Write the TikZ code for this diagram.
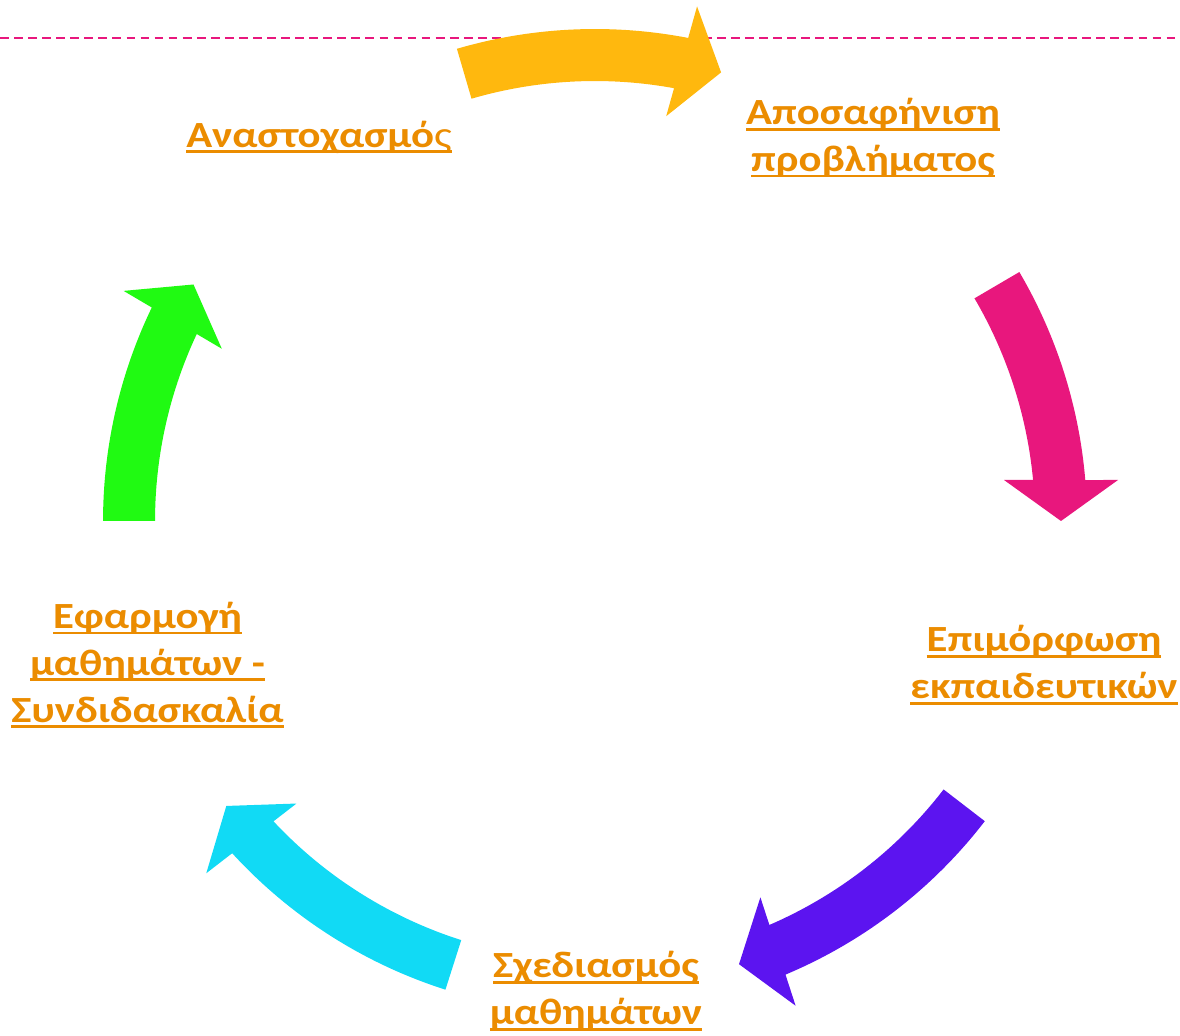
\documentclass[tikz,border=0pt]{standalone}
\usepackage{fontspec}
\setmainfont{Carlito}[FakeStretch=1.16]
\usepackage{tikz}

\definecolor{labelorange}{RGB}{235,140,0}
\definecolor{cycyellow}{RGB}{255,184,14}
\definecolor{cycpink}{RGB}{232,23,125}
\definecolor{cycpurple}{RGB}{92,20,240}
\definecolor{cyccyan}{RGB}{17,218,245}
\definecolor{cycgreen}{RGB}{32,250,18}

\newcommand\ulword[1]{\leavevmode\setbox0\hbox{#1}\rlap{\rule[-3.3pt]{\wd0}{1.5pt}}\box0}
% curved block arrow: colour, tip angle, arc span back to the tail
\newcommand\cyclearrow[3]{%
  \begin{scope}[rotate=#2]
   \fill[#1] (#3:492) arc[start angle=#3,end angle=4.78,radius=492] -- (523,41) -- (466,0)
     -- (409,41) -- (5.35:440) arc[start angle=5.35,end angle=#3,radius=440] -- cycle;
  \end{scope}}

\tikzset{steplabel/.style={text=labelorange,font=\bfseries\fontsize{21}{26.7}\selectfont,
  align=center,inner sep=0pt}}

\begin{document}
\begin{tikzpicture}[x=0.02cm,y=0.02cm]
   \useasboundingbox (0,0) rectangle (1180,1035);
   \draw[cycpink,line width=1.2pt,dash pattern=on 5pt off 3pt] (0,997) -- (1180,997);

   \begin{scope}[shift={(595,514)}]
    \cyclearrow{cycyellow}{74.3}{32}
    \cyclearrow{cycpink}{0}{30.4}
    \cyclearrow{cycpurple}{-72}{34.4}
    \cyclearrow{cyccyan}{-142.3}{34.6}
    \cyclearrow{cycgreen}{149.5}{30.5}
   \end{scope}

   \node[steplabel] (reflect) at (319,898) {\ulword{Αναστοχασμό{\mdseries ς}}};
   \node[steplabel] (clarify) at (873,897) {\ulword{Αποσαφήνιση}\\ \ulword{προβλήματος}};
   \node[steplabel] (train) at (1044,370) {\ulword{Επιμόρφωση}\\ \ulword{εκπαιδευτικών}};
   \node[steplabel] (design) at (596,44) {\ulword{Σχεδιασμός}\\ \ulword{μαθημάτων}};
   \node[steplabel] (apply) at (147.5,370) {\ulword{Εφαρμογή}\\ \ulword{μαθημάτων -}\\ \ulword{Συνδιδασκαλία}};
\end{tikzpicture}
\end{document}
